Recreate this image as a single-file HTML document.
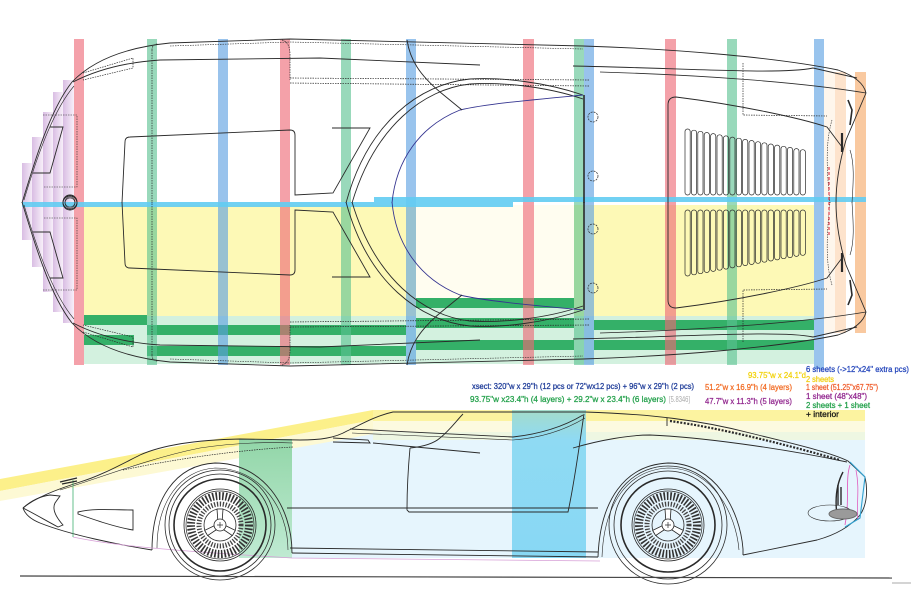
<!DOCTYPE html>
<html><head><meta charset="utf-8"><style>
html,body{margin:0;padding:0;background:#fff;}
svg{display:block;}
text{font-family:"Liberation Sans",sans-serif;font-size:8px;stroke-width:0.25px;}
</style></head><body>
<svg width="911" height="608" viewBox="0 0 911 608" xmlns="http://www.w3.org/2000/svg">
<defs>
<linearGradient id="pur" x1="0" x2="1" y1="0" y2="0"><stop offset="0" stop-color="#d9bde3"/><stop offset="1" stop-color="#f7eff9"/></linearGradient>
<linearGradient id="grn" x1="0" x2="0" y1="0" y2="1"><stop offset="0" stop-color="#92d6a8"/><stop offset="1" stop-color="#bfead2"/></linearGradient>
<linearGradient id="cy" x1="0" x2="0" y1="0" y2="1"><stop offset="0" stop-color="#a4dccb"/><stop offset="0.2" stop-color="#8fdaf3"/><stop offset="1" stop-color="#88d8f4"/></linearGradient>
</defs>
<rect width="911" height="608" fill="#fff"/>

<!-- ===== TOP VIEW ===== -->
<g fill="url(#pur)">
<rect x="22" y="163" width="11" height="77"/>
<rect x="32" y="137" width="11" height="130"/>
<rect x="43" y="112" width="10" height="180"/>
<rect x="53" y="92" width="10" height="220"/>
<rect x="63" y="80" width="11" height="243"/>
</g>
<!-- yellow -->
<rect x="84" y="205" width="730" height="115" fill="#fdf9b6"/>
<rect x="416" y="205" width="158" height="93" fill="#fffdf0"/>
<!-- pale green strip -->
<rect x="84" y="316" width="730" height="48" fill="#d3f1df"/>
<rect x="416" y="298" width="158" height="20" fill="#d3f1df"/>
<g fill="#34b068">
<rect x="84" y="315" width="63" height="10"/>
<rect x="84" y="335" width="50" height="10"/>
<rect x="147" y="325" width="259" height="10"/>
<rect x="147" y="346" width="259" height="10"/>
<rect x="416" y="298" width="158" height="10"/>
<rect x="416" y="318" width="158" height="10"/>
<rect x="416" y="340" width="158" height="10"/>
<rect x="594" y="320" width="220" height="10"/>
<rect x="594" y="340" width="220" height="10"/>
</g>
<!-- orange tail bars -->
<rect x="824" y="72" width="11" height="261" fill="#fef6ec"/>
<rect x="835" y="72" width="11" height="261" fill="#fde3cc"/>
<rect x="855" y="72" width="11" height="261" fill="#f9c9a0"/>
<!-- vertical bars -->
<g opacity="0.62">
<g fill="#ee6876">
<rect x="74" y="39" width="10" height="326"/>
<rect x="280" y="39" width="10" height="326"/>
<rect x="523" y="39" width="11" height="326"/>
<rect x="665" y="39" width="11" height="326"/>
</g>
<g fill="#5cc392">
<rect x="147" y="39" width="10" height="326"/>
<rect x="341" y="39" width="10" height="326"/>
<rect x="574" y="39" width="10" height="326"/>
<rect x="727" y="39" width="10" height="326"/>
</g>
<g fill="#5b9fe2">
<rect x="218" y="39" width="10" height="326"/>
<rect x="406" y="39" width="10" height="326"/>
<rect x="584" y="39" width="10" height="326"/>
<rect x="814" y="39" width="10" height="330"/>
</g>
</g>
<!-- cyan centre line -->
<rect x="22" y="202" width="491" height="5" fill="#62ccf2" opacity="0.9"/>
<rect x="374" y="197" width="492" height="5" fill="#62ccf2" opacity="0.9"/>

<!-- car outline top half (mirrored) -->
<g id="th" fill="none" stroke="#2a2a2a" stroke-width="0.9">
<path d="M22,203 C35,160 50,110 72,82 C95,58 130,47 170,43 L290,39 L583,46 C680,49 780,58 838,70 C855,76 864,84 866,93"/>
<path d="M866,93 L846,140 C840,160 836,180 836,203"/>
<path d="M73,82 C100,68 130,62 160,60 L320,58 L480,65"/>
<path d="M573,66 C680,68 780,75 813,68 L857,78"/>
<path d="M600,72 C700,75 800,82 866,93" stroke-width="0.8"/>
<path d="M24,200 C36,160 52,112 74,86" stroke-width="0.6"/>
<path d="M668,203 L668,105 Q668,97 676,97 C740,105 800,118 827,127 L842,147"/>
<path d="M743,63 L743,115 L827,116" stroke-dasharray="1.5 1" stroke-width="0.7"/>
<path d="M290,78 L590,80 M290,83 L590,86" stroke-dasharray="1.5 1" stroke-width="0.7"/>
<path d="M170,46 L290,42 L583,49" stroke-dasharray="1.5 1" stroke-width="0.6"/>
<path d="M152,50 Q152,44 158,44 M152,50 L152,203" stroke-dasharray="1.5 1" stroke-width="0.7"/>
<path d="M282,40 Q290,42 290,55 L290,80" stroke-dasharray="1.5 1" stroke-width="0.7"/>
<path d="M83,73 L133,58 L133,68 L83,80" stroke-dasharray="1.5 1" stroke-width="0.7"/>
<!-- hood -->
<path d="M122,203 L125,142 Q125,137 130,137 L290,130 Q295,130 295,135 L295,195 L333,193 L370,128 L332,128"/>
<!-- nose -->
<path d="M50,127 L63,127 L50,173 L33,173"/>
<path d="M43,115 L77,115 L77,187 L43,187" stroke-dasharray="1.5 1" stroke-width="0.6"/>
<circle cx="70" cy="203" r="7"/>
<circle cx="70" cy="203" r="5" stroke-width="0.6"/>
<!-- canopy -->
<path d="M583,95 C545,82 500,77 470,79 C420,84 368,122 346,203"/>
<path d="M583,99 C545,86 500,82 470,84 C424,89 375,126 352,203"/>
<path d="M583,95 C530,100 485,104 460,110 C420,126 396,160 392,203" stroke="#343490"/>
<path d="M407,40 C410,60 420,75 440,92 L462,110"/>
<path d="M584,95 L584,203" stroke-width="1.6"/>
<circle cx="593" cy="117" r="5" stroke-width="0.7" stroke-dasharray="2 1"/>
<circle cx="593" cy="176" r="5" stroke-width="0.7" stroke-dasharray="2 1"/>
<!-- tail details -->
<path d="M842,133 L842,152" stroke-width="2.2"/>
<path d="M848,100 L852,110 L850,125" stroke-width="1.6"/>
<path d="M832,120 C826,140 826,165 830,203" stroke-width="0.6" stroke-dasharray="1.5 1"/>
<path d="M850,150 C855,165 853,185 852,203" stroke-width="0.6"/>
<!-- louvers -->
<g stroke-width="0.7">
<rect x="685" y="129" width="5.2" height="66" rx="2.5"/>
<rect x="691.4" y="130.2" width="5.2" height="64.8" rx="2.5"/>
<rect x="697.8" y="131.3" width="5.2" height="63.7" rx="2.5"/>
<rect x="704.2" y="132.5" width="5.2" height="62.5" rx="2.5"/>
<rect x="710.6" y="133.6" width="5.2" height="61.4" rx="2.5"/>
<rect x="717" y="134.8" width="5.2" height="60.2" rx="2.5"/>
<rect x="723.4" y="135.9" width="5.2" height="59.1" rx="2.5"/>
<rect x="729.8" y="137.1" width="5.2" height="57.9" rx="2.5"/>
<rect x="736.2" y="138.2" width="5.2" height="56.8" rx="2.5"/>
<rect x="742.6" y="139.4" width="5.2" height="55.6" rx="2.5"/>
<rect x="749" y="140.5" width="5.2" height="54.5" rx="2.5"/>
<rect x="755.4" y="141.7" width="5.2" height="53.3" rx="2.5"/>
<rect x="761.8" y="142.8" width="5.2" height="52.2" rx="2.5"/>
<rect x="768.2" y="144" width="5.2" height="51" rx="2.5"/>
<rect x="774.6" y="145.1" width="5.2" height="49.9" rx="2.5"/>
<rect x="781" y="146.3" width="5.2" height="48.7" rx="2.5"/>
<rect x="787.4" y="147.4" width="5.2" height="47.6" rx="2.5"/>
<rect x="793.8" y="148.6" width="5.2" height="46.4" rx="2.5"/>
<rect x="800.2" y="149.7" width="5.2" height="45.3" rx="2.5"/>
</g>
</g>
<use href="#th" transform="matrix(1 0 0 -1 0 405)"/>
<path d="M829,167 L829,237" stroke="#e04050" stroke-width="1.2" stroke-dasharray="3 2" fill="none"/>

<!-- ===== SIDE VIEW ===== -->
<rect x="292" y="430" width="573" height="128" fill="#e6f5fd"/>
<polygon points="0,479 373,410 373,420 0,491" fill="#fcf08a"/>
<polygon points="0,491 373,420 373,434 0,501" fill="#fdf9d4"/>
<rect x="373" y="410" width="492" height="11" fill="#fcf3a0"/>
<rect x="373" y="421" width="492" height="11" fill="#fcfadf"/>
<rect x="373" y="432" width="492" height="8" fill="#eef7e2"/>
<rect x="239" y="439" width="53" height="119" fill="url(#grn)"/>
<rect x="512" y="410" width="74" height="148" fill="url(#cy)"/>

<g fill="none" stroke="#2a2a2a" stroke-width="0.9">
<path d="M23,508 C35,498 55,490 80,482 C100,476 120,465 140,455 C160,446 190,440 240,439 L300,440 C320,440 335,438 347,431 C360,425 375,416 393,412 L585,412 C650,414 700,420 750,433 C790,443 830,452 848,461 L865,477 C868,490 867,505 860,515 C850,527 835,535 817,540 L743,555"/>
<path d="M123,470 C180,458 240,450 293,447" stroke-dasharray="1.5 1" stroke-width="0.7"/>
<path d="M60,490 C100,478 150,458 200,448 C240,442 270,442 293,443" stroke-width="0.6"/>
<!-- rear arch -->
<path d="M743,555 L743,549 C740,510 715,463 668,463 C625,465 600,500 598,557"/>
<path d="M739,550 C736,514 713,468 668,468 C628,470 604,503 602,557" stroke-width="0.6"/>
<!-- sill -->
<path d="M598,557 L292,553 M598,552 L290,548"/>
<!-- front arch -->
<path d="M292,553 C292,505 262,463 215,463 C175,465 152,500 152,550"/>
<path d="M288,550 C288,508 260,468 215,468 C180,470 157,502 157,548" stroke-width="0.6"/>
<!-- under nose -->
<path d="M152,550 C120,545 70,535 40,523 C30,519 25,514 23,508"/>
<path d="M73,537 C110,545 160,550 292,558 L600,561" stroke="#d7a0d7" stroke-width="0.8"/>
<path d="M73,480 L73,537" stroke="#40b070" stroke-width="0.8"/>
<!-- nose details -->
<path d="M23,508 C32,500 42,496 50,495 L60,496 L55,503 C52,509 55,516 63,525 L58,527 C45,520 33,513 23,508"/>
<path d="M78,512 C95,508 115,510 133,510 L133,530 C115,527 95,520 78,514 Z"/>
<path d="M60,482 L77,478 M62,484 L77,481" stroke-width="1.4"/>
<!-- belt, door, windows -->
<path d="M287,508 L598,508"/>
<path d="M410,448 C408,470 407,490 407,510 L409,512 L568,512 C575,480 580,440 584,414"/>
<path d="M409,508 L568,508" stroke-width="0.6"/>
<path d="M410,448 C420,447 432,445 440,438 C450,430 457,420 463,414"/>
<path d="M373,443 L480,453"/>
<path d="M350,429 L513,437 C540,434 563,427 583,415"/>
<path d="M352,433 L513,440 C540,438 565,430 585,418" stroke-width="0.6"/>
<path d="M333,438 L368,440 L370,443 L333,442"/>
<path d="M573,448 C600,440 630,435 650,435 C700,437 780,448 847,462"/>
<path d="M670,421 C720,428 780,443 840,460" stroke-width="2.2" stroke-dasharray="2 1.5"/>
<path d="M667,418 L667,426"/>
<!-- tail -->
<path d="M850,465 C845,480 850,500 845,525" stroke="#e060c0" stroke-width="0.9"/>
<path d="M856,470 C860,490 856,505 858,520" stroke="#e060c0" stroke-width="0.8"/>
<path d="M850,462 L865,477 L860,518 L845,527" stroke="#30a0d0" stroke-width="1.1"/>
<path d="M838,485 L838,505 M841,487 L841,505" stroke-width="1.4"/>
<path d="M843,472 C836,485 835,500 837,515" stroke-width="1.4"/>
<ellipse cx="830" cy="513" rx="22" ry="8" stroke-width="0.6"/>
<ellipse cx="843" cy="514" rx="14" ry="5" fill="#9a9a9a" stroke="#666"/>
</g>

<!-- wheels -->
<g fill="none" stroke="#2a2a2a">
<g transform="translate(220,525)">
<circle r="55" stroke-width="0.8"/><circle r="51" stroke-width="0.8"/><circle r="46" stroke-width="1.6"/>
<circle r="36" stroke-width="0.8"/><circle r="34" stroke-width="0.7"/>
<circle r="29" stroke-width="8" stroke="#333" stroke-dasharray="1.6 1.7"/>
<circle r="21" stroke-width="5" stroke="#444" stroke-dasharray="1.3 1.6"/>
<circle r="16" stroke-width="0.8"/>
<g fill="#fff" stroke="#222" stroke-width="0.8">
<path d="M-2,-2 L-3,-16 L3,-16 L2,-2Z" transform="rotate(0)"/>
<path d="M-2,-2 L-3,-16 L3,-16 L2,-2Z" transform="rotate(120)"/>
<path d="M-2,-2 L-3,-16 L3,-16 L2,-2Z" transform="rotate(240)"/>
<circle r="6"/>
</g>
<path d="M-3,0 L3,0 M0,-3 L0,3" stroke-width="0.7"/>
</g>
<g transform="translate(668,525)">
<circle r="59" stroke-width="0.8"/><circle r="54" stroke-width="0.8"/><circle r="47" stroke-width="1.6"/>
<circle r="36" stroke-width="0.8"/><circle r="34" stroke-width="0.7"/>
<circle r="29" stroke-width="8" stroke="#333" stroke-dasharray="1.6 1.7"/>
<circle r="21" stroke-width="5" stroke="#444" stroke-dasharray="1.3 1.6"/>
<circle r="16" stroke-width="0.8"/>
<g fill="#fff" stroke="#222" stroke-width="0.8">
<path d="M-2,-2 L-3,-16 L3,-16 L2,-2Z" transform="rotate(0)"/>
<path d="M-2,-2 L-3,-16 L3,-16 L2,-2Z" transform="rotate(120)"/>
<path d="M-2,-2 L-3,-16 L3,-16 L2,-2Z" transform="rotate(240)"/>
<circle r="6"/>
</g>
<path d="M-3,0 L3,0 M0,-3 L0,3" stroke-width="0.7"/>
</g>
</g>
<!-- ground -->
<path d="M20,576 L892,578" stroke="#444" stroke-width="1.2" fill="none"/>
<path d="M892,583 L911,583" stroke="#aaa" stroke-width="1" fill="none"/>

<!-- labels -->
<text x="748" y="378" fill="#f2d20a" stroke="#f2d20a" textLength="58" lengthAdjust="spacingAndGlyphs">93.75"w x 24.1"d</text>
<text x="806" y="382" fill="#f2cf10" stroke="#f2cf10" textLength="28" lengthAdjust="spacingAndGlyphs">2 sheets</text>
<text x="806" y="372" fill="#2244bb" stroke="#2244bb" textLength="103" lengthAdjust="spacingAndGlyphs">6 sheets (-&gt;12"x24" extra pcs)</text>
<text x="472" y="389" fill="#1c3a98" stroke="#1c3a98" textLength="222" lengthAdjust="spacingAndGlyphs">xsect: 320"w x 29"h (12 pcs or 72"wx12 pcs) + 96"w x 29"h (2 pcs)</text>
<text x="705" y="390" fill="#f26a21" stroke="#f26a21" textLength="87" lengthAdjust="spacingAndGlyphs">51.2"w x 16.9"h (4 layers)</text>
<text x="806" y="390" fill="#f05a28" stroke="#f05a28" textLength="72" lengthAdjust="spacingAndGlyphs">1 sheet (51.25"x67.75")</text>
<text x="806" y="399" fill="#92278f" stroke="#92278f" textLength="61" lengthAdjust="spacingAndGlyphs">1 sheet (48"x48")</text>
<text x="470" y="402" fill="#22a04a" stroke="#22a04a" textLength="196" lengthAdjust="spacingAndGlyphs">93.75"w x23.4"h (4 layers) + 29.2"w x 23.4"h (6 layers)</text>
<text x="669" y="402" fill="#aaaaaa" textLength="21" lengthAdjust="spacingAndGlyphs">[5.8346]</text>
<text x="705" y="404" fill="#92278f" stroke="#92278f" textLength="87" lengthAdjust="spacingAndGlyphs">47.7"w x 11.3"h (5 layers)</text>
<text x="806" y="408" fill="#22a04a" stroke="#22a04a" textLength="64" lengthAdjust="spacingAndGlyphs">2 sheets + 1 sheet</text>
<text x="806" y="417" fill="#111" stroke="#111" textLength="33" lengthAdjust="spacingAndGlyphs">+ interior</text>
</svg>
</body></html>
